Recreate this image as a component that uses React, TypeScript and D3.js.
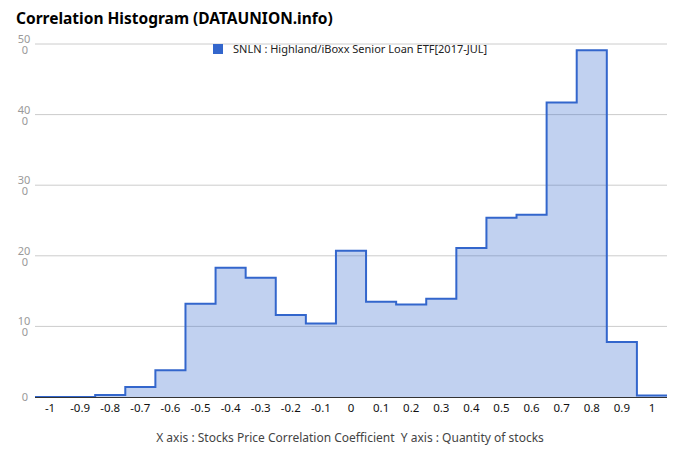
import React from "react";
import * as d3 from "d3";

const bins: number[] = [-1, -0.9, -0.8, -0.7, -0.6, -0.5, -0.4, -0.3, -0.2, -0.1, 0, 0.1, 0.2, 0.3, 0.4, 0.5, 0.6, 0.7, 0.8, 0.9, 1];
const counts: number[] = [0, 0, 3, 14, 38, 132, 183, 169, 116, 104, 207, 135, 131, 139, 211, 254, 258, 417, 491, 78, 2];
const yTicks: number[] = [0, 100, 200, 300, 400, 500];
const xTickLabels: string[] = ["-1", "-0.9", "-0.8", "-0.7", "-0.6", "-0.5", "-0.4", "-0.3", "-0.2", "-0.1", "0", "0.1", "0.2", "0.3", "0.4", "0.5", "0.6", "0.7", "0.8", "0.9", "1"];
const title = "Correlation Histogram (DATAUNION.info)";
const legendLabel = "SNLN : Highland/iBoxx Senior Loan ETF[2017-JUL]";
const axisCaption = "X axis : Stocks Price Correlation Coefficient  Y axis : Quantity of stocks";

const W = 680, H = 462;
const L = 35, R = 667, T = 44, B = 397;
const FONT = "'Noto Sans', 'Open Sans', sans-serif";

export default function App() {
  const x = d3.scaleLinear().domain([-1.05, 1.05]).range([L, R]);
  const y = d3.scaleLinear().domain([0, 500]).range([B, T]);
  const pts: [number, number][] = bins.map((b, i) => [b - 0.05, counts[i]]);
  pts.push([bins[bins.length - 1] + 0.05, counts[counts.length - 1]]);
  const line = d3.line<[number, number]>().x(d => x(d[0])).y(d => y(d[1])).curve(d3.curveStepAfter);
  const area = d3.area<[number, number]>().x(d => x(d[0])).y0(y(0)).y1(d => y(d[1])).curve(d3.curveStepAfter);

  return (
    <svg width={W} height={H} style={{ display: "block", position: "absolute", left: 0, top: 0, background: "#fff" }}>
      <rect x={0} y={0} width={W} height={H} fill="#fff" />
      <text x={16} y={24} fontFamily={FONT} fontWeight="bold" fontSize={15.5} fill="#000">{title}</text>
      {yTicks.map(t => (
        <g key={t}>
          {t > 0 && <line x1={L} x2={R} y1={y(t)} y2={y(t)} stroke="#cccccc" strokeWidth={1} />}
          {t >= 100 ? (
            <g>
              <text x={24} y={y(t) - 1} fontFamily={FONT} fontSize={11} fill="#999" textAnchor="middle">{String(t).slice(0, 2)}</text>
              <text x={25} y={y(t) + 10} fontFamily={FONT} fontSize={11} fill="#999" textAnchor="middle">{String(t).slice(2)}</text>
            </g>
          ) : (
            <text x={25} y={y(t) + 4} fontFamily={FONT} fontSize={11} fill="#999" textAnchor="middle">{t}</text>
          )}
        </g>
      ))}
      <path d={area(pts) || ""} fill="#3366cc" fillOpacity={0.3} stroke="none" />
      <path d={line(pts) || ""} fill="none" stroke="#3366cc" strokeWidth={2} />
      <line x1={L} x2={R} y1={B + 0.5} y2={B + 0.5} stroke="#333" strokeWidth={1} />
      {bins.map((b, i) => (
        <text key={b} x={x(b)} y={412} fontFamily={FONT} fontSize={11.5} fill="#111" textAnchor="middle">{xTickLabels[i]}</text>
      ))}
      <rect x={213} y={44} width={10} height={10} fill="#3366cc" />
      <text x={233} y={53} fontFamily={FONT} fontSize={11} fill="#222">{legendLabel}</text>
      <text x={350} y={442} fontFamily={FONT} fontSize={12} fill="#444" textAnchor="middle" style={{ whiteSpace: "pre" }}>{axisCaption}</text>
    </svg>
  );
}
